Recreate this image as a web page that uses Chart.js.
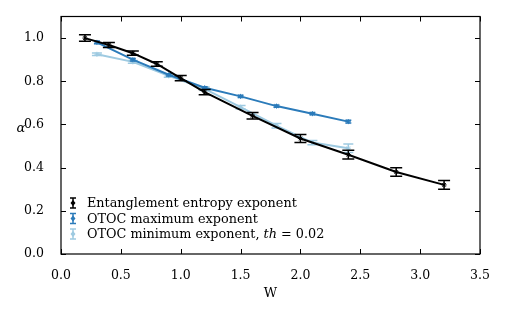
<!DOCTYPE html>
<html>
<head>
<meta charset="utf-8">
<script src="https://cdn.jsdelivr.net/npm/chart.js@4.4.1/dist/chart.umd.min.js"></script>
<style>
  html, body { margin: 0; padding: 0; background: #fff; }
  #wrap { width: 507px; height: 315px; }
</style>
</head>
<body>
<div id="wrap"><canvas id="chart" width="507" height="315"></canvas></div>
<script>
// data
const entW = [0.2, 0.4, 0.6, 0.8, 1.0, 1.2, 1.6, 2.0, 2.4, 2.8, 3.2];
const entAlpha = [1.0, 0.968, 0.93, 0.88, 0.815, 0.75, 0.64, 0.535, 0.46, 0.38, 0.32];
const entErr = [0.015, 0.012, 0.01, 0.01, 0.012, 0.012, 0.015, 0.018, 0.02, 0.02, 0.02];

const otocW = [0.3, 0.6, 0.9, 1.2, 1.5, 1.8, 2.1, 2.4];
const maxAlpha = [0.98, 0.90, 0.83, 0.77, 0.73, 0.685, 0.65, 0.613];
const maxErr = [0.006, 0.006, 0.005, 0.005, 0.005, 0.005, 0.005, 0.006];
const minAlpha = [0.925, 0.89, 0.825, 0.765, 0.68, 0.594, 0.516, 0.49];
const minErr = [0.006, 0.006, 0.006, 0.008, 0.008, 0.01, 0.01, 0.02];

const xTicks = [0.0, 0.5, 1.0, 1.5, 2.0, 2.5, 3.0, 3.5];
const yTicks = [0.0, 0.2, 0.4, 0.6, 0.8, 1.0];

const black = '#000000';
const blue = '#2b7bba';
const light = '#9ecae1';
const serif = '"DejaVu Serif", serif';

function pts(xs, ys) {
    return xs.map((x, i) => ({ x: x, y: ys[i] }));
}

const errors = [entErr, maxErr, minErr];
const capHalf = [6, 3, 5];

const errorBars = {
    id: 'errorBars',
    afterDatasetDraw(chart, args) {
        const ctx = chart.ctx;
        const ds = chart.data.datasets[args.index];
        const err = errors[args.index];
        const xs = chart.scales.x, ys = chart.scales.y;
        ctx.save();
        ctx.strokeStyle = ds.borderColor;
        ctx.lineWidth = 1.5;
        ds.data.forEach((p, i) => {
            const px = xs.getPixelForValue(p.x);
            const top = ys.getPixelForValue(p.y + err[i]);
            const bot = ys.getPixelForValue(p.y - err[i]);
            const c = capHalf[args.index];
            ctx.beginPath();
            ctx.moveTo(px, top); ctx.lineTo(px, bot);
            ctx.moveTo(px - c, top); ctx.lineTo(px + c, top);
            ctx.moveTo(px - c, bot); ctx.lineTo(px + c, bot);
            ctx.stroke();
        });
        ctx.restore();
    }
};

const frame = {
    id: 'frame',
    afterDraw(chart) {
        const ctx = chart.ctx;
        const a = chart.chartArea;
        const xs = chart.scales.x, ys = chart.scales.y;
        ctx.save();
        ctx.strokeStyle = '#000';
        ctx.lineWidth = 1.2;
        ctx.strokeRect(a.left, a.top, a.right - a.left, a.bottom - a.top);
        ctx.lineWidth = 1;
        ctx.beginPath();
        xTicks.forEach(t => {
            const px = Math.round(xs.getPixelForValue(t)) + 0.5;
            ctx.moveTo(px, a.bottom); ctx.lineTo(px, a.bottom - 5);
            ctx.moveTo(px, a.top); ctx.lineTo(px, a.top + 5);
        });
        yTicks.forEach(t => {
            const py = Math.round(ys.getPixelForValue(t)) + 0.5;
            ctx.moveTo(a.left, py); ctx.lineTo(a.left + 5, py);
            ctx.moveTo(a.right, py); ctx.lineTo(a.right - 5, py);
        });
        ctx.stroke();

        // y axis label
        ctx.fillStyle = '#000';
        ctx.font = 'italic 13px ' + serif;
        ctx.textAlign = 'center';
        ctx.textBaseline = 'middle';
        ctx.fillText('α', 21, ys.getPixelForValue(0.58));

        // legend in lower left corner
        const items = [
            { color: black, text: 'Entanglement entropy exponent' },
            { color: blue, text: 'OTOC maximum exponent' },
            { color: light, text: 'OTOC minimum exponent, ' }
        ];
        const fs = 12.8;
        ctx.textAlign = 'left';
        items.forEach((it, i) => {
            const y = 203 + i * 15.5;
            const x = 73;
            ctx.strokeStyle = it.color;
            ctx.fillStyle = it.color;
            ctx.lineWidth = 1.5;
            ctx.beginPath();
            ctx.moveTo(x, y - 5); ctx.lineTo(x, y + 5);
            ctx.moveTo(x - 3, y - 5); ctx.lineTo(x + 3, y - 5);
            ctx.moveTo(x - 3, y + 5); ctx.lineTo(x + 3, y + 5);
            ctx.stroke();
            ctx.beginPath();
            ctx.moveTo(x, y - 3); ctx.lineTo(x + 2.5, y); ctx.lineTo(x, y + 3); ctx.lineTo(x - 2.5, y);
            ctx.closePath();
            ctx.fill();
            ctx.fillStyle = '#000';
            ctx.font = fs + 'px ' + serif;
            ctx.fillText(it.text, 87, y + 1);
            if (i === 2) {
                let w = ctx.measureText(it.text).width + 87;
                ctx.font = 'italic ' + fs + 'px ' + serif;
                ctx.fillText('th', w, y + 1);
                w += ctx.measureText('th').width;
                ctx.font = fs + 'px ' + serif;
                ctx.fillText(' = 0.02', w, y + 1);
            }
        });
        ctx.restore();
    }
};

function series(label, xs, ys, color) {
    return {
        label: label,
        data: pts(xs, ys),
        borderColor: color,
        backgroundColor: color,
        borderWidth: 2,
        pointStyle: 'star',
        pointRadius: 2.5,
        pointBorderWidth: 1,
        tension: 0,
        showLine: true
    };
}

const ctx = document.getElementById('chart').getContext('2d');
const chart = new Chart(ctx, {
    type: 'scatter',
    data: {
        datasets: [
            series('Entanglement entropy exponent', entW, entAlpha, black),
            series('OTOC maximum exponent', otocW, maxAlpha, blue),
            series('OTOC minimum exponent, th = 0.02', otocW, minAlpha, light)
        ]
    },
    options: {
        responsive: false,
        animation: false,
        layout: { padding: { left: 0, right: 27, top: 15, bottom: 0 } },
        plugins: {
            legend: { display: false },
            tooltip: { enabled: false }
        },
        scales: {
            x: {
                type: 'linear',
                min: 0, max: 3.5,
                afterBuildTicks: s => { s.ticks = xTicks.map(v => ({ value: v })); },
                afterFit: s => { s.height = 61; },
                grid: { display: false },
                border: { display: false },
                ticks: {
                    color: '#000',
                    font: { family: serif, size: 12.5 },
                    padding: 6,
                    callback: v => v.toFixed(1)
                },
                title: {
                    display: true,
                    text: 'W',
                    color: '#000',
                    font: { family: serif, size: 13 },
                    padding: { top: 2, bottom: 14 }
                }
            },
            y: {
                type: 'linear',
                min: 0, max: 1.1,
                afterBuildTicks: s => { s.ticks = yTicks.map(v => ({ value: v })); },
                afterFit: s => { s.width = 61; },
                grid: { display: false },
                border: { display: false },
                ticks: {
                    color: '#000',
                    font: { family: serif, size: 12.5 },
                    padding: 9,
                    callback: v => v.toFixed(1)
                }
            }
        }
    },
    plugins: [errorBars, frame]
});
</script>
</body>
</html>
